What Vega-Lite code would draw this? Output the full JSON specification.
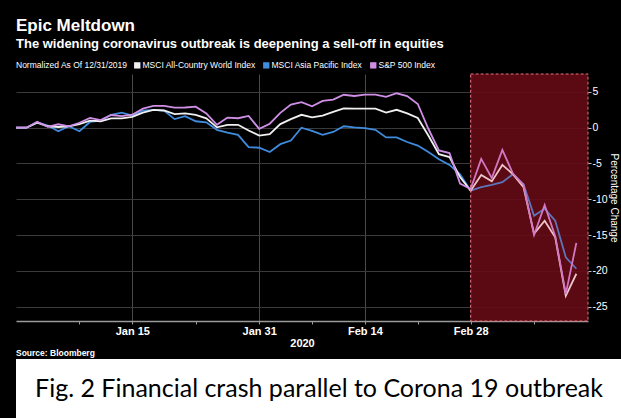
{
  "$schema": "https://vega.github.io/schema/vega-lite/v6.json",
  "background": "#000000",
  "padding": {"left": 12, "top": 17, "right": 0, "bottom": 0},
  "autosize": {"type": "pad"},
  "spacing": 0,
  "config": {
    "view": {"stroke": null},
    "font": "Liberation Sans"
  },
  "title": {
    "text": "Epic Meltdown",
    "subtitle": "The widening coronavirus outbreak is deepening a sell-off in equities",
    "anchor": "start",
    "frame": "group",
    "color": "#ffffff",
    "font": "Liberation Sans",
    "fontSize": 17,
    "fontWeight": "bold",
    "subtitleColor": "#ffffff",
    "subtitleFont": "Liberation Sans",
    "subtitleFontSize": 13,
    "subtitleFontWeight": "bold",
    "subtitlePadding": 3,
    "offset": 9
  },
  "vconcat": [
    {
      "width": 572,
      "height": 247,
      "data": {
        "values": [
          {"date": "2019-12-31", "acwi": 0.0, "asia": 0.0, "spx": 0.0},
          {"date": "2020-01-01", "acwi": 0.0, "asia": 0.0, "spx": 0.0},
          {"date": "2020-01-02", "acwi": 0.7, "asia": 0.75, "spx": 0.84},
          {"date": "2020-01-03", "acwi": 0.2, "asia": 0.3, "spx": 0.13},
          {"date": "2020-01-06", "acwi": 0.1, "asia": -0.5, "spx": 0.48},
          {"date": "2020-01-07", "acwi": 0.2, "asia": 0.2, "spx": 0.2},
          {"date": "2020-01-08", "acwi": 0.5, "asia": -0.5, "spx": 0.69},
          {"date": "2020-01-09", "acwi": 1.0, "asia": 0.8, "spx": 1.36},
          {"date": "2020-01-10", "acwi": 0.9, "asia": 1.0, "spx": 1.07},
          {"date": "2020-01-13", "acwi": 1.3, "asia": 1.8, "spx": 1.77},
          {"date": "2020-01-14", "acwi": 1.3, "asia": 2.1, "spx": 1.62},
          {"date": "2020-01-15", "acwi": 1.5, "asia": 1.7, "spx": 1.81},
          {"date": "2020-01-16", "acwi": 2.1, "asia": 2.4, "spx": 2.66},
          {"date": "2020-01-17", "acwi": 2.5, "asia": 2.5, "spx": 3.06},
          {"date": "2020-01-20", "acwi": 2.4, "asia": 2.4, "spx": 3.06},
          {"date": "2020-01-21", "acwi": 1.9, "asia": 1.2, "spx": 2.79},
          {"date": "2020-01-22", "acwi": 2.0, "asia": 1.6, "spx": 2.82},
          {"date": "2020-01-23", "acwi": 1.8, "asia": 0.9, "spx": 2.93},
          {"date": "2020-01-24", "acwi": 1.3, "asia": 0.75, "spx": 2.0},
          {"date": "2020-01-27", "acwi": 0.05, "asia": -0.3, "spx": 0.4},
          {"date": "2020-01-28", "acwi": 0.4, "asia": -0.7, "spx": 1.41},
          {"date": "2020-01-29", "acwi": 0.4, "asia": -1.0, "spx": 1.32},
          {"date": "2020-01-30", "acwi": -0.4, "asia": -2.7, "spx": 1.64},
          {"date": "2020-01-31", "acwi": -1.1, "asia": -2.8, "spx": -0.16},
          {"date": "2020-02-03", "acwi": -0.9, "asia": -3.4, "spx": 0.56},
          {"date": "2020-02-04", "acwi": 0.5, "asia": -2.3, "spx": 2.07},
          {"date": "2020-02-05", "acwi": 1.2, "asia": -1.8, "spx": 3.22},
          {"date": "2020-02-06", "acwi": 1.8, "asia": 0.0, "spx": 3.56},
          {"date": "2020-02-07", "acwi": 1.45, "asia": -0.45, "spx": 3.0},
          {"date": "2020-02-10", "acwi": 1.7, "asia": -1.0, "spx": 3.75},
          {"date": "2020-02-11", "acwi": 2.2, "asia": -0.6, "spx": 3.93},
          {"date": "2020-02-12", "acwi": 2.7, "asia": 0.2, "spx": 4.6},
          {"date": "2020-02-13", "acwi": 2.65, "asia": 0.05, "spx": 4.43},
          {"date": "2020-02-14", "acwi": 2.65, "asia": -0.05, "spx": 4.62},
          {"date": "2020-02-17", "acwi": 2.65, "asia": -0.3, "spx": 4.62},
          {"date": "2020-02-18", "acwi": 2.1, "asia": -1.35, "spx": 4.32},
          {"date": "2020-02-19", "acwi": 2.5, "asia": -1.35, "spx": 4.81},
          {"date": "2020-02-20", "acwi": 2.0, "asia": -2.0, "spx": 4.41},
          {"date": "2020-02-21", "acwi": 1.35, "asia": -2.5, "spx": 3.31},
          {"date": "2020-02-24", "acwi": -1.1, "asia": -3.4, "spx": -0.15},
          {"date": "2020-02-25", "acwi": -3.7, "asia": -4.4, "spx": -3.17},
          {"date": "2020-02-26", "acwi": -4.1, "asia": -5.2, "spx": -3.54},
          {"date": "2020-02-27", "acwi": -6.9, "asia": -6.5, "spx": -7.8},
          {"date": "2020-02-28", "acwi": -8.8, "asia": -8.8, "spx": -8.56},
          {"date": "2020-03-02", "acwi": -6.6, "asia": -8.3, "spx": -4.35},
          {"date": "2020-03-03", "acwi": -7.5, "asia": -8.0, "spx": -7.04},
          {"date": "2020-03-04", "acwi": -5.2, "asia": -7.6, "spx": -3.11},
          {"date": "2020-03-05", "acwi": -6.5, "asia": -6.5, "spx": -6.4},
          {"date": "2020-03-06", "acwi": -8.3, "asia": -7.9, "spx": -8.0},
          {"date": "2020-03-09", "acwi": -14.8, "asia": -12.3, "spx": -14.99},
          {"date": "2020-03-10", "acwi": -13.0, "asia": -11.3, "spx": -10.79},
          {"date": "2020-03-11", "acwi": -15.3, "asia": -13.0, "spx": -15.15},
          {"date": "2020-03-12", "acwi": -23.5, "asia": -18.1, "spx": -23.22},
          {"date": "2020-03-13", "acwi": -20.4, "asia": -19.7, "spx": -16.09}
        ]
      },
      "transform": [
        {"window": [{"op": "row_number", "as": "session"}], "sort": [{"field": "date"}]}
      ],
      "encoding": {
        "x": {
          "field": "session",
          "type": "quantitative",
          "title": "2020",
          "scale": {"domain": [1, 55.1], "nice": false, "zero": false},
          "axis": {
            "values": [7, 12, 18, 24, 29, 34, 39, 44, 50],
            "labelExpr": "indexof([12, 24, 34, 44], datum.value) >= 0 ? ['Jan 15', 'Jan 31', 'Feb 14', 'Feb 28'][indexof([12, 24, 34, 44], datum.value)] : ''",
            "labelOverlap": false,
            "labelColor": "#ffffff",
            "labelFont": "Liberation Sans",
            "labelFontWeight": "bold",
            "labelFontSize": 11,
            "labelPadding": 1,
            "titleColor": "#ffffff",
            "titleFont": "Liberation Sans",
            "titleFontWeight": "bold",
            "titleFontSize": 11,
            "titlePadding": 1,
            "domainColor": "#9a9a9a",
            "domainWidth": 1.5,
            "tickColor": "#9a9a9a",
            "tickSize": 3,
            "gridColor": "#4a4a4a",
            "gridOpacity": {"condition": {"test": "indexof([12, 24, 34, 44], datum.value) >= 0", "value": 1}, "value": 0}
          }
        }
      },
      "layer": [
        {
          "transform": [{"filter": "datum.date == '2020-02-28'"}],
          "mark": {"type": "rect", "fill": "#45050e", "fillOpacity": 0.85},
          "encoding": {"x2": {"value": "width"}}
        },
        {
          "transform": [{"fold": ["asia", "acwi", "spx"], "as": ["series", "pct"]}],
          "mark": {"type": "line", "strokeWidth": 1.8},
          "encoding": {
            "y": {
              "field": "pct",
              "type": "quantitative",
              "scale": {"domain": [-27, 7.5], "nice": false, "zero": false},
              "axis": {
                "orient": "right",
                "values": [5, 0, -5, -10, -15, -20, -25],
                "labelExpr": "'' + datum.value",
                "title": "Percentage Change",
                "titleColor": "#ffffff",
                "titleFont": "Liberation Sans",
                "titleFontWeight": "normal",
                "titleFontSize": 10,
                "titlePadding": 1,
                "labelColor": "#ffffff",
                "labelFont": "Liberation Sans",
                "labelFontWeight": "normal",
                "labelFontSize": 10.5,
                "labelPadding": 1,
                "domain": false,
                "tickColor": "#bbbbbb",
                "tickSize": 3,
                "gridColor": "#3a3a3a"
              }
            },
            "color": {
              "field": "series",
              "type": "nominal",
              "scale": {"domain": ["acwi", "asia", "spx"], "range": ["#f0f0f0", "#3f8bdc", "#d08fe6"]},
              "legend": {
                "orient": "top",
                "direction": "horizontal",
                "title": "Normalized As Of 12/31/2019",
                "titleOrient": "left",
                "titleColor": "#ffffff",
                "titleFont": "Liberation Sans",
                "titleFontWeight": "normal",
                "titleFontSize": 8.5,
                "titlePadding": 5,
                "labelColor": "#ffffff",
                "labelFont": "Liberation Sans",
                "labelFontSize": 8.5,
                "labelOffset": 1,
                "labelLimit": 300,
                "labelExpr": "datum.value == 'acwi' ? 'MSCI All-Country World Index' : datum.value == 'asia' ? 'MSCI Asia Pacific Index' : 'S&P 500 Index'",
                "symbolType": "square",
                "symbolSize": 40,
                "symbolStrokeWidth": 0,
                "columnPadding": 6,
                "offset": 3,
                "padding": 0,
                "encode": {"symbols": {"update": {"fill": {"scale": "color", "field": "value"}, "strokeWidth": {"value": 0}}}}
              }
            }
          }
        },
        {
          "transform": [{"filter": "datum.date == '2020-02-28'"}],
          "mark": {"type": "rect", "fill": "#dc1e32", "fillOpacity": 0.2, "stroke": "#e8707c", "strokeOpacity": 1, "strokeDash": [3, 2], "strokeWidth": 1},
          "encoding": {"x2": {"value": "width"}}
        }
      ]
    },
    {
      "width": 606,
      "height": 59,
      "view": {"fill": "#ffffff", "stroke": null},
      "title": {
        "text": "Source: Bloomberg",
        "anchor": "start",
        "color": "#ffffff",
        "font": "Liberation Sans",
        "fontSize": 8.5,
        "fontWeight": "bold",
        "offset": 2
      },
      "data": {"values": [{"caption": "Fig. 2 Financial crash parallel to Corona 19 outbreak"}]},
      "mark": {"type": "text", "font": "Lato", "fontSize": 25, "color": "#000000", "align": "center", "baseline": "middle"},
      "encoding": {"text": {"field": "caption"}}
    }
  ]
}
